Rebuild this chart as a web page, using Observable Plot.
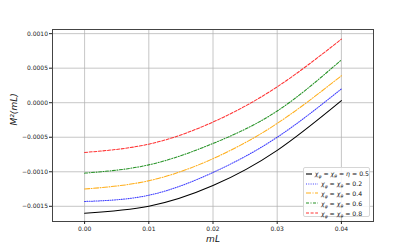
<!DOCTYPE html>
<html>
<head>
<meta charset="utf-8">
<script src="https://cdn.jsdelivr.net/npm/d3@7"></script>
<script src="https://cdn.jsdelivr.net/npm/@observablehq/plot@0.6"></script>
<style>
  body { margin: 0; background: #fff; }
  #wrap { position: relative; width: 415px; height: 249px; font-family: "DejaVu Sans", sans-serif; }
  #legend { position: absolute; left: 303px; top: 167px; width: 67px; height: 50px;
    border: 1px solid #d6d6d6; border-radius: 2px; background: rgba(255,255,255,0.85);
    box-sizing: border-box; padding-top: 1px; }
  .row { height: 9.8px; display: flex; align-items: center; font-size: 6.2px; color: #111; white-space: nowrap; }
  .row svg { margin-left: 2px; margin-right: 3px; }
  .row i { font-style: italic; }
  .row sub { font-size: 4.5px; vertical-align: -1.5px; line-height: 0; }
</style>
</head>
<body>
<div id="wrap"><div id="legend"></div></div>
<script>
const mL = [0, 0.01, 0.02, 0.03, 0.04];
const eta05 = [-0.0016, -0.0015, -0.0012, -0.00069, 0.00003];
const chi02 = [-0.00143, -0.00134, -0.00101, -0.0005, 0.0002];
const chi04 = [-0.00125, -0.00113, -0.00081, -0.0003, 0.00039];
const chi06 = [-0.00102, -0.0009, -0.00059, -0.00012, 0.00062];
const chi08 = [-0.00072, -0.0006, -0.00028, 0.00023, 0.00092];
const seriesLabels = ["η = 0.5", "0.2", "0.4", "0.6", "0.8"];
const xTicks = [0, 0.01, 0.02, 0.03, 0.04];
const yTicks = [-0.0015, -0.0010, -0.0005, 0.0000, 0.0005, 0.0010];

const styles = [
  {stroke: "black", dash: null, opacity: 1},
  {stroke: "blue", dash: "1,1.3", opacity: 0.75},
  {stroke: "orange", dash: "5,1.5,1,1.5", opacity: 0.9},
  {stroke: "green", dash: "3,1.5,1,1.5", opacity: 0.85},
  {stroke: "red", dash: "3,1.6", opacity: 0.8}
];
const allSeries = [eta05, chi02, chi04, chi06, chi08];

const fmtY = v => (v < 0 ? "\u2212" : "") + Math.abs(v).toFixed(4);

const lines = allSeries.map((s, i) => Plot.line(mL.map((x, j) => ({x, y: s[j]})), {
  x: "x", y: "y", curve: "natural",
  stroke: styles[i].stroke, strokeWidth: 1.05,
  strokeOpacity: styles[i].opacity,
  strokeDasharray: styles[i].dash
}));

const chart = Plot.plot({
  width: 415, height: 249,
  marginLeft: 52, marginRight: 42, marginTop: 29, marginBottom: 28,
  style: {fontFamily: "DejaVu Sans, sans-serif", fontSize: "6px", background: "white", color: "#222"},
  x: {domain: [-0.005, 0.045]},
  y: {domain: [-0.00172, 0.00106]},
  marks: [
    Plot.gridX(xTicks, {stroke: "#b0b0b0", strokeOpacity: 0.8, strokeWidth: 0.9}),
    Plot.gridY(yTicks, {stroke: "#b0b0b0", strokeOpacity: 0.8, strokeWidth: 0.9}),
    ...lines,
    Plot.frame({stroke: "#444", strokeWidth: 1}),
    Plot.axisX({ticks: xTicks, tickFormat: d => d.toFixed(2), tickSize: 3, tickPadding: 2, label: null, fontSize: 6}),
    Plot.axisY({ticks: yTicks, tickFormat: fmtY, tickSize: 3, tickPadding: 1.5, label: null, fontSize: 6}),
    Plot.text(["mL"], {frameAnchor: "bottom", dy: 20, text: d => d, fontSize: 9, fontStyle: "italic", fill: "#111"}),
    Plot.text(["M²(mL)"], {frameAnchor: "left", dx: -38, rotate: -90, text: d => d, fontSize: 9, fontStyle: "italic", fill: "#111"})
  ]
});
document.getElementById("wrap").prepend(chart);

const legend = document.getElementById("legend");
seriesLabels.forEach((lab, i) => {
  const row = document.createElement("div");
  row.className = "row";
  const st = styles[i];
  row.innerHTML = `<svg width="12" height="4"><line x1="0" y1="2" x2="12" y2="2" stroke="${st.stroke}" stroke-opacity="${st.opacity}" stroke-width="1.1" ${st.dash ? `stroke-dasharray="${st.dash}"` : ""}/></svg>` +
    `<span><i>χ</i><sub><i>φ</i></sub> = <i>χ</i><sub><i>θ</i></sub> = ${lab.startsWith("η") ? "<i>η</i> = 0.5" : lab}</span>`;
  legend.appendChild(row);
});
</script>
</body>
</html>
